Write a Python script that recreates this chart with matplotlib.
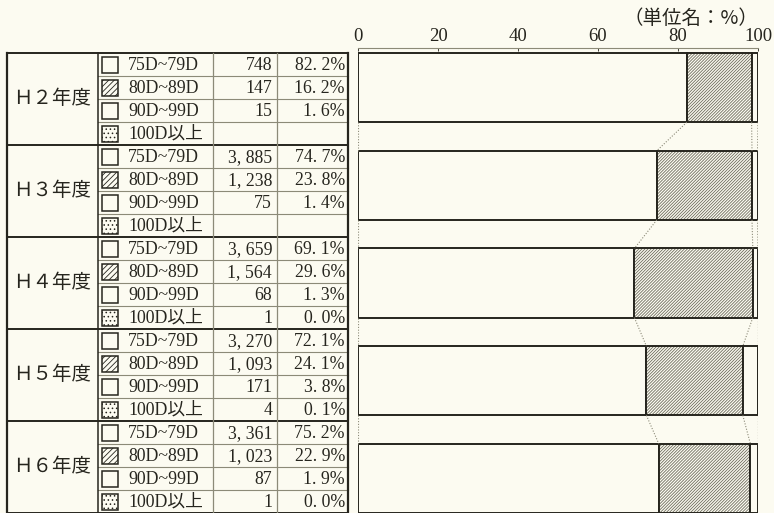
import matplotlib
matplotlib.use("Agg")
import matplotlib.pyplot as plt
from matplotlib.patches import Rectangle

plt.rcParams['font.family'] = ['Liberation Serif', 'Noto Sans CJK JP', 'DejaVu Sans']
plt.rcParams['hatch.linewidth'] = 0.6

# ---------------- data ----------------
years = ["Ｈ２年度", "Ｈ３年度", "Ｈ４年度", "Ｈ５年度", "Ｈ６年度"]
classes = ["75D~79D", "80D~89D", "90D~99D", "100D以上"]
counts_h2 = [748, 147, 15, None]
counts_h3 = [3885, 1238, 75, None]
counts_h4 = [3659, 1564, 68, 1]
counts_h5 = [3270, 1093, 171, 4]
counts_h6 = [3361, 1023, 87, 1]
pct_h2 = [82.2, 16.2, 1.6, None]
pct_h3 = [74.7, 23.8, 1.4, None]
pct_h4 = [69.1, 29.6, 1.3, 0.0]
pct_h5 = [72.1, 24.1, 3.8, 0.1]
pct_h6 = [75.2, 22.9, 1.9, 0.0]
xticks = [0, 20, 40, 60, 80, 100]
unit_label = "（単位名：%）"

counts = [counts_h2, counts_h3, counts_h4, counts_h5, counts_h6]
pcts = [pct_h2, pct_h3, pct_h4, pct_h5, pct_h6]

BG = "#fcfbf1"
INK = "#26251e"
GREY = "#8c8a78"
HATCH = "#6e6c5e"
hatches = [None, "///////////", None, "...."]
icon_hatches = [None, "//////", None, "...."]

W, H = 774, 513
fig = plt.figure(figsize=(W / 100, H / 100), dpi=100, facecolor=BG)

# ---------------- table (pixel coordinates) ----------------
tab = fig.add_axes([0, 0, 1, 1], zorder=0)
tab.set_xlim(0, W)
tab.set_ylim(H, 0)
tab.axis("off")
tab.set_facecolor(BG)

x_left, x_year, x_cnt, x_pct, x_right = 7, 98, 213, 277, 348
y_top, row_h = 53, 23
n_rows = len(years) * len(classes)
y_bot = y_top + n_rows * row_h

for r in range(n_rows + 1):
    y = y_top + r * row_h
    if r % 4 == 0:
        tab.plot([x_left, x_right], [y, y], color=INK, lw=1.4, solid_capstyle="butt")
    else:
        tab.plot([x_year, x_right], [y, y], color=GREY, lw=0.8)
tab.plot([x_left, x_left], [y_top, y_bot], color=INK, lw=1.6)
tab.plot([x_right, x_right], [y_top, y_bot], color=INK, lw=1.6)
tab.plot([x_year, x_year], [y_top, y_bot], color=INK, lw=1.1)
tab.plot([x_cnt, x_cnt], [y_top, y_bot], color=GREY, lw=0.9)
tab.plot([x_pct, x_pct], [y_top, y_bot], color=GREY, lw=0.9)

fs = 12.8
for g, yr in enumerate(years):
    gy = y_top + g * 4 * row_h
    tab.text((x_left + x_year) / 2, gy + 2 * row_h, yr, ha="center", va="center",
             fontsize=14, family=["Noto Sans CJK JP"], color=INK)
    for k, cl in enumerate(classes):
        cy = gy + k * row_h + row_h / 2
        tab.add_patch(Rectangle((102, cy - 8), 16, 16, facecolor=BG, edgecolor=INK,
                                lw=1.1, hatch=icon_hatches[k]))
        tab.text(128, cy + 1, cl, ha="left", va="center", fontsize=fs, color=INK)
        c = counts[g][k]
        p = pcts[g][k]
        if c is not None:
            tab.text(x_pct - 5, cy + 1, f"{c:,}".replace(",", ", "), ha="right",
                     va="center", fontsize=fs, color=INK)
        if p is not None:
            tab.text(x_right - 3, cy + 1, f"{p:.1f}".replace(".", ". ") + "%", ha="right",
                     va="center", fontsize=fs, color=INK)

tab.text(758, 18, unit_label, ha="right", va="center", fontsize=14,
         family=["Noto Sans CJK JP"], color=INK)

# ---------------- bars ----------------
ax_top_px, ax_bot_px = 48, 513
x0_px, x1_px = 358, 758
ax = fig.add_axes([x0_px / W, 1 - ax_bot_px / H, (x1_px - x0_px) / W,
                   (ax_bot_px - ax_top_px) / H], zorder=1)
ax.set_facecolor("none")
bh = 0.708
ypos = list(range(len(years)))
ax.set_xlim(0, 100)
ax.set_ylim(4 + bh / 2, -bh / 2 - 0.052)

for i in ypos:
    left = 0.0
    vals = [v if v is not None else 0.0 for v in pcts[i]]
    for k, v in enumerate(vals):
        if v <= 0:
            continue
        ax.barh(i, v, left=left, height=bh, color=BG, edgecolor=HATCH,
                lw=0, hatch=hatches[k])
        ax.barh(i, v, left=left, height=bh, color="none", edgecolor=INK, lw=1.4)
        left += v

# dotted connectors between bars
for i in ypos[:-1]:
    a = [v if v is not None else 0.0 for v in pcts[i]]
    b = [v if v is not None else 0.0 for v in pcts[i + 1]]
    ca, cb = [0.0], [0.0]
    for k in range(3):
        ca.append(min(ca[-1] + a[k], 100))
        cb.append(min(cb[-1] + b[k], 100))
    ca.append(100.0)
    cb.append(100.0)
    for xa, xb in zip(ca, cb):
        ax.plot([xa, xb], [i + bh / 2, i + 1 - bh / 2], color=GREY, lw=0.8,
                ls=(0, (1, 1.5)))

ax.xaxis.tick_top()
ax.set_xticks(xticks)
ax.set_xticklabels([str(t) for t in xticks], fontsize=13.5, color=INK)
ax.tick_params(axis="x", length=2, width=0.6, direction="in", pad=2, colors=INK)
ax.set_yticks([])
for s in ["left", "right", "bottom"]:
    ax.spines[s].set_visible(False)
ax.spines["top"].set_color(GREY)
ax.spines["top"].set_linewidth(0.8)

fig.savefig("out.png", dpi=100, facecolor=BG)
